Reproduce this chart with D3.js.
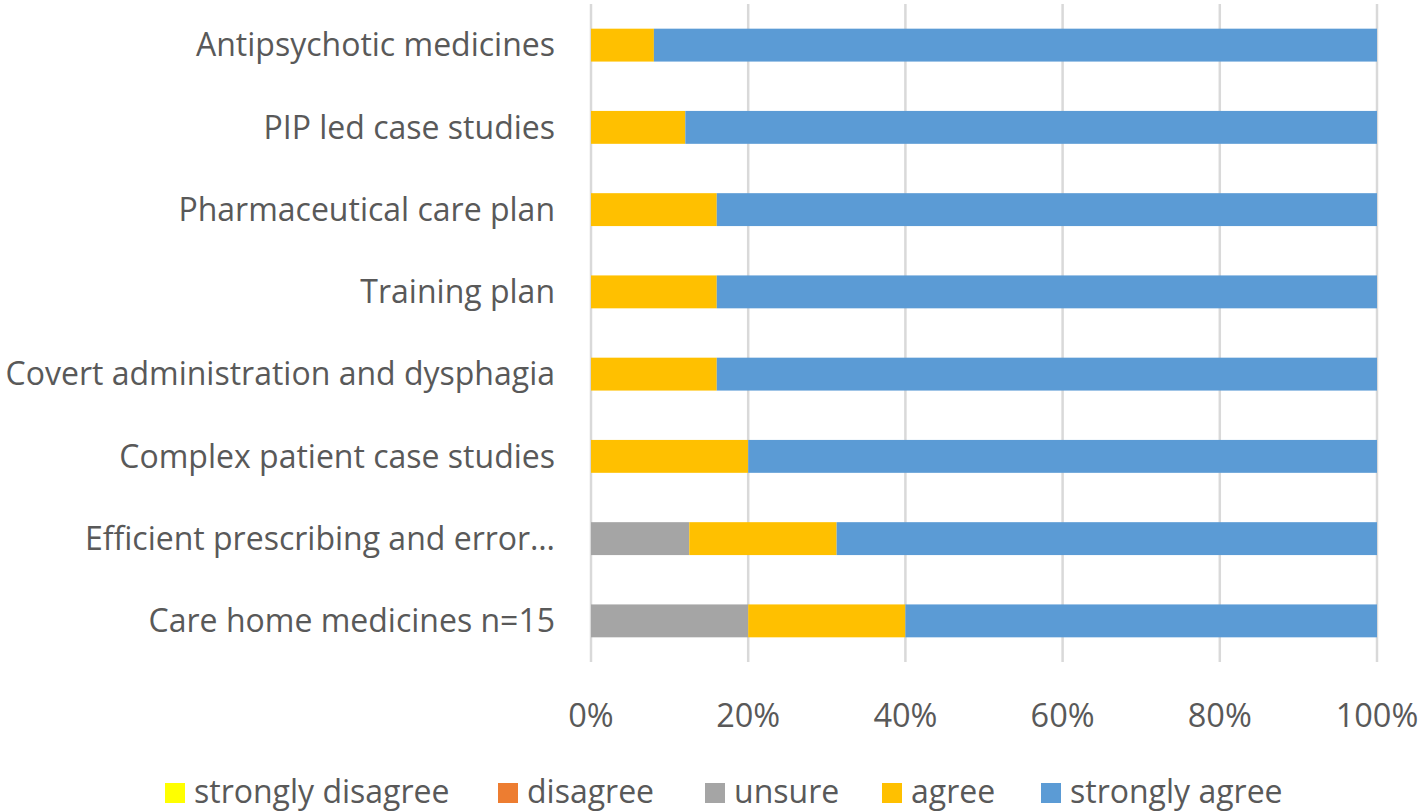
<!DOCTYPE html>
<html><head><meta charset="utf-8">
<script src="https://cdn.jsdelivr.net/npm/d3@7"></script>
<style>body{margin:0;background:#fff;}svg{display:block;font-family:"Open Sans",sans-serif;}</style>
</head><body><svg id="c" width="1424" height="812"></svg>
<script>
const categories = ["Antipsychotic medicines","PIP led case studies","Pharmaceutical care plan","Training plan","Covert administration and dysphagia","Complex patient case studies","Efficient prescribing and error…","Care home medicines n=15"];
const seriesNames = ["strongly disagree","disagree","unsure","agree","strongly agree"];
const stronglyDisagree = [0,0,0,0,0,0,0,0];
const disagree = [0,0,0,0,0,0,0,0];
const unsure = [0,0,0,0,0,0,12.5,20];
const agree = [8,12,16,16,16,20,18.75,20];
const stronglyAgree = [92,88,84,84,84,80,68.75,60];
const tickLabels = ["0%","20%","40%","60%","80%","100%"];
const colors = ["#FFFF00","#ED7D31","#A5A5A5","#FFC000","#5B9BD5"];

const svg = d3.select("#c");
const x = d3.scaleLinear().domain([0,100]).range([591,1377]);
const y = d3.scaleBand().domain(categories).range([4,662]).paddingInner(0.6).paddingOuter(0.3);
const fs = 32;

const rows = categories.map((c,i)=>({cat:c, vals:[stronglyDisagree[i],disagree[i],unsure[i],agree[i],stronglyAgree[i]]}));
const stack = d3.stack().keys([0,1,2,3,4]).value((d,k)=>d.vals[k])(rows);

// gridlines
svg.append("g").selectAll("line").data(d3.range(0,101,20)).join("line")
  .attr("x1",d=>x(d)).attr("x2",d=>x(d)).attr("y1",4).attr("y2",662)
  .attr("stroke","#d9d9d9").attr("stroke-width",2.5);

svg.append("g").selectAll("g").data(stack).join("g").attr("fill",(d,i)=>colors[i])
  .selectAll("rect").data(d=>d).join("rect")
  .attr("x",d=>x(d[0])).attr("width",d=>x(d[1])-x(d[0]))
  .attr("y",d=>y(d.data.cat)).attr("height",y.bandwidth());

// category labels
svg.append("g").selectAll("text").data(categories).join("text")
  .attr("x",555).attr("y",d=>y(d)+y.bandwidth()/2).attr("dy","0.35em")
  .attr("text-anchor","end").attr("font-size",fs).attr("fill","#595959").text(d=>d);

// x tick labels
svg.append("g").selectAll("text").data(tickLabels).join("text")
  .attr("x",(d,i)=>x(i*20)).attr("y",716).attr("dy","0.35em")
  .attr("text-anchor","middle").attr("font-size",32.5).attr("fill","#595959").text(d=>d);

// legend
const legX = [165,498,705,882,1041];
const lg = svg.append("g").selectAll("g").data(seriesNames).join("g")
  .attr("transform",(d,i)=>`translate(${legX[i]},792)`);
lg.append("rect").attr("x",0).attr("y",-9).attr("width",20).attr("height",20).attr("fill",(d,i)=>colors[i]);
lg.append("text").attr("x",29).attr("y",0).attr("dy","0.35em").attr("font-size",fs).attr("fill","#595959").text(d=>d);
</script></body></html>
